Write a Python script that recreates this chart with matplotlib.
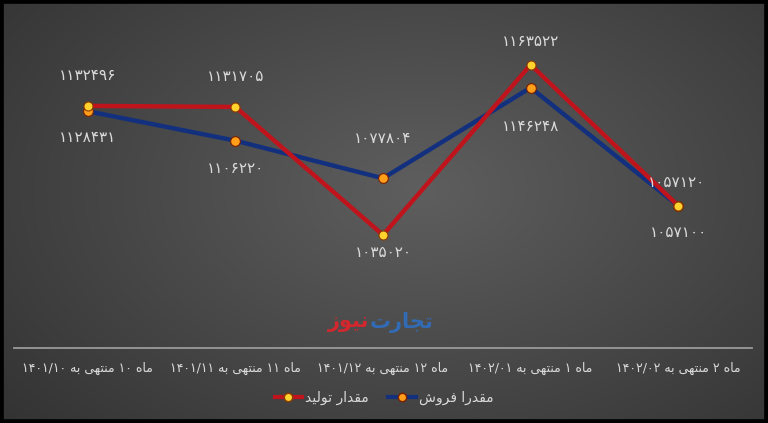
import numpy as np
import matplotlib
matplotlib.use("Agg")
import matplotlib.pyplot as plt
from matplotlib.lines import Line2D
from matplotlib.patches import Rectangle

# داده‌ها
categories = ['ماه 10 منتهی به 1401/10', 'ماه 11 منتهی به 1401/11', 'ماه 12 منتهی به 1401/12',
              'ماه 1 منتهی به 1402/01', 'ماه 2 منتهی به 1402/02']
production = [1132496, 1131705, 1035020, 1163522, 1057120]
sales = [1128431, 1106220, 1077804, 1146248, 1057100]
series_names = ['مقدار تولید', 'مقدرا فروش']
watermark = ['تجارت', 'نیوز']

# Arabic presentation forms: isolated, final, initial, medial
FORMS = {
    'ا': ('\uFE8D', '\uFE8E', None, None),
    'ب': ('\uFE8F', '\uFE90', '\uFE91', '\uFE92'),
    'ت': ('\uFE95', '\uFE96', '\uFE97', '\uFE98'),
    'ج': ('\uFE9D', '\uFE9E', '\uFE9F', '\uFEA0'),
    'د': ('\uFEA9', '\uFEAA', None, None),
    'ر': ('\uFEAD', '\uFEAE', None, None),
    'ز': ('\uFEAF', '\uFEB0', None, None),
    'ش': ('\uFEB5', '\uFEB6', '\uFEB7', '\uFEB8'),
    'ف': ('\uFED1', '\uFED2', '\uFED3', '\uFED4'),
    'ق': ('\uFED5', '\uFED6', '\uFED7', '\uFED8'),
    'ل': ('\uFEDD', '\uFEDE', '\uFEDF', '\uFEE0'),
    'م': ('\uFEE1', '\uFEE2', '\uFEE3', '\uFEE4'),
    'ن': ('\uFEE5', '\uFEE6', '\uFEE7', '\uFEE8'),
    'ه': ('\uFEE9', '\uFEEA', '\uFEEB', '\uFEEC'),
    'و': ('\uFEED', '\uFEEE', None, None),
    'ی': ('\uFEEF', '\uFEF0', '\uFEF3', '\uFEF4'),
}
FA_DIGITS = str.maketrans('0123456789', '۰۱۲۳۴۵۶۷۸۹')


def shape_word(w):
    out = []
    for i, ch in enumerate(w):
        if ch not in FORMS:
            out.append(ch)
            continue
        prev = w[i - 1] if i > 0 else None
        nxt = w[i + 1] if i < len(w) - 1 else None
        jp = prev in FORMS and FORMS[prev][2] is not None
        jn = nxt in FORMS and FORMS[ch][2] is not None
        iso, fin, ini, med = FORMS[ch]
        if jp and jn:
            out.append(med)
        elif jp:
            out.append(fin)
        elif jn:
            out.append(ini)
        else:
            out.append(iso)
    return ''.join(reversed(out))


def fa(text):
    """شکل‌دهی ساده و راست‌به‌چپ"""
    tokens = text.translate(FA_DIGITS).split(' ')
    out = [shape_word(t) if any(c in FORMS for c in t) else t for t in tokens]
    return ' '.join(reversed(out))


TEXT = '#DADADA'
RED = '#C0141C'
BLUE = '#13307E'

fig = plt.figure(figsize=(7.68, 4.23), dpi=100)

# پس‌زمینه گرادیان
bg = fig.add_axes([0, 0, 1, 1], zorder=0)
yy, xx = np.mgrid[0:423, 0:768]
r = np.sqrt(((xx - 420) / 520.0) ** 2 + ((yy - 190) / 330.0) ** 2)
val = np.clip(0.37 - 0.16 * r, 0.19, 0.37)
bg.imshow(np.dstack([val, val, val]), aspect='auto', extent=[0, 1, 0, 1])
bg.axis('off')
fig.patches.append(Rectangle((0, 0), 1, 1, transform=fig.transFigure, fill=False,
                             edgecolor='black', linewidth=5.5, zorder=10))

ax = fig.add_axes([14 / 768, 75.5 / 423, 738 / 768, 331 / 423], zorder=1)
ax.patch.set_alpha(0)
x = np.arange(len(categories))

ax.plot(x, production, color=RED, lw=3.2, marker='o', ms=6.5, mfc='#FFD22E',
        mec='#8A3A00', mew=0.8, solid_joinstyle='miter', zorder=3)
ax.plot(x, sales, color=BLUE, lw=3.2, marker='o', ms=7, mfc='#FF9F1A',
        mec='#7A1E00', mew=0.8, solid_joinstyle='miter', zorder=2)

# برچسب‌های داده
prod_off = [(0, 22), (0, 22), (0, -13), (0, 17), (-1, 17)]
sales_off = [(0, -19), (0, -20), (0, 29), (0, -28), (0, -19)]
for i in range(len(x)):
    ax.annotate(str(production[i]).translate(FA_DIGITS), (x[i], production[i]),
                xytext=prod_off[i], textcoords='offset points', ha='center', va='center',
                color=TEXT, fontsize=11, family='DejaVu Sans')
    ax.annotate(str(sales[i]).translate(FA_DIGITS), (x[i], sales[i]),
                xytext=sales_off[i], textcoords='offset points', ha='center', va='center',
                color=TEXT, fontsize=11, family='DejaVu Sans')

ax.set_xlim(-0.5, len(categories) - 0.5)
ax.set_ylim(950000, 1200000)
ax.set_xticks(x)
ax.set_xticklabels([fa(c) for c in categories], color=TEXT, fontsize=9)
ax.tick_params(axis='x', length=0, pad=10)
ax.set_yticks([])
for s in ['top', 'right', 'left']:
    ax.spines[s].set_visible(False)
ax.spines['bottom'].set_color('#9A9A9A')
ax.spines['bottom'].set_linewidth(1.3)

# واترمارک
fig.text(0.481, 101 / 423, fa(watermark[0]), color='#2F6FC0', fontsize=15,
         fontweight='bold', ha='left', va='center', alpha=0.9)
fig.text(0.481, 101 / 423, fa(watermark[1]), color='#E3232B', fontsize=15,
         fontweight='bold', ha='right', va='center', alpha=0.9)

handles = [Line2D([], [], color=RED, lw=3, marker='o', ms=6, mfc='#FFD22E', mec='#8A3A00'),
           Line2D([], [], color=BLUE, lw=3, marker='o', ms=6, mfc='#FF9F1A', mec='#7A1E00')]
leg = fig.legend(handles, [fa(n) for n in series_names], loc='center',
                 bbox_to_anchor=(0.5, 25 / 423), ncol=2, frameon=False, fontsize=10,
                 handlelength=2.0, columnspacing=1.4, handletextpad=0.2)
for t in leg.get_texts():
    t.set_color(TEXT)

fig.savefig('out.png', dpi=100)
